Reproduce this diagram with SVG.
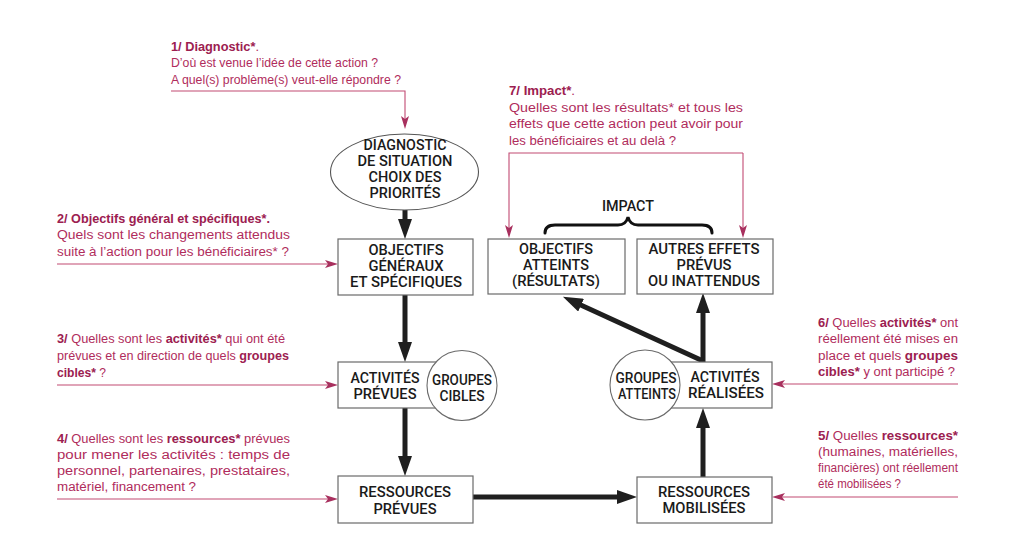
<svg xmlns="http://www.w3.org/2000/svg" width="1024" height="545" viewBox="0 0 1024 545">
<style>
.ann{font-family:"Liberation Sans",Arial,sans-serif;font-size:12px;fill:#b02c5c}
.ann .b{font-weight:bold;fill:#9c2050}
.nd{font-family:Roboto,"Liberation Sans",sans-serif;font-size:15.5px;font-weight:500;fill:#1a1a1a;text-anchor:middle}
.box{fill:#fff;stroke:#6a6a6a;stroke-width:1.2}
.circ{fill:#fff;stroke:#6a6a6a;stroke-width:1.1}
.thick{stroke:#1f1f1f;stroke-width:5;fill:none;marker-end:url(#ah)}
.pink{stroke:#c24a73;stroke-width:1.1;fill:none;marker-end:url(#ap)}
</style>
<defs>
<marker id="ah" viewBox="0 0 20 14" markerWidth="20" markerHeight="14" refX="10" refY="7" orient="auto" markerUnits="userSpaceOnUse">
<path d="M0,0 L20,7 L0,14 z" fill="#1f1f1f"/>
</marker>
<marker id="ap" viewBox="0 0 13 8" markerWidth="13" markerHeight="8" refX="7" refY="4" orient="auto" markerUnits="userSpaceOnUse">
<path d="M0,0 L13,4 L0,8 L3,4 z" fill="#a8305e"/>
</marker>
</defs>

<g id="connectors">
<line class="thick" x1="405" y1="210" x2="405" y2="229"/>
<line class="thick" x1="405" y1="295" x2="405" y2="352"/>
<line class="thick" x1="405" y1="408" x2="405" y2="466"/>
<line class="thick" x1="473" y1="497" x2="627" y2="497"/>
<line class="thick" x1="703" y1="477" x2="703" y2="418"/>
<line class="thick" x1="703" y1="362" x2="703" y2="303"/>
<line class="thick" x1="703" y1="361" x2="572" y2="301"/>
<polyline class="pink" points="171,91 405,91 405,123"/>
<polyline class="pink" points="743,153 509,153 509,232"/>
<polyline class="pink" points="743,153 743,232"/>
<line class="pink" x1="57" y1="264" x2="332" y2="264"/>
<line class="pink" x1="57" y1="385" x2="332" y2="385"/>
<line class="pink" x1="57" y1="499" x2="332" y2="499"/>
<line class="pink" x1="958" y1="384" x2="778" y2="384"/>
<line class="pink" x1="958" y1="497" x2="778" y2="497"/>
<path d="M545,233 Q545,225 555,225 L618,225 Q626,225 628,217 Q630,225 638,225 L702,225 Q712,225 712,233" fill="none" stroke="#111" stroke-width="3" stroke-linecap="round"/>
</g>

<g id="diagnostic">
<ellipse cx="404.5" cy="172" rx="74" ry="38" fill="#fff" stroke="#555" stroke-width="1.1"/>
<text class="nd" x="405" y="150" textLength="83" lengthAdjust="spacingAndGlyphs">DIAGNOSTIC</text>
<text class="nd" x="405" y="166" textLength="95" lengthAdjust="spacingAndGlyphs">DE SITUATION</text>
<text class="nd" x="405" y="182" textLength="73" lengthAdjust="spacingAndGlyphs">CHOIX DES</text>
<text class="nd" x="405" y="198" textLength="71" lengthAdjust="spacingAndGlyphs">PRIORITÉS</text>
</g>

<g id="objectifs">
<rect class="box" x="338" y="239" width="135" height="56"/>
<text class="nd" x="406" y="255" textLength="75" lengthAdjust="spacingAndGlyphs">OBJECTIFS</text>
<text class="nd" x="406" y="271" textLength="75" lengthAdjust="spacingAndGlyphs">GÉNÉRAUX</text>
<text class="nd" x="406" y="287" textLength="112" lengthAdjust="spacingAndGlyphs">ET SPÉCIFIQUES</text>
</g>

<g id="activites-prevues">
<rect class="box" x="338" y="362" width="135" height="46"/>
<text class="nd" x="385" y="383" textLength="69" lengthAdjust="spacingAndGlyphs">ACTIVITÉS</text>
<text class="nd" x="385" y="399" textLength="63" lengthAdjust="spacingAndGlyphs">PRÉVUES</text>
</g>

<g id="groupes-cibles">
<circle class="circ" cx="462" cy="385.5" r="35"/>
<text class="nd" x="462" y="385" textLength="60" lengthAdjust="spacingAndGlyphs">GROUPES</text>
<text class="nd" x="462" y="401" textLength="45" lengthAdjust="spacingAndGlyphs">CIBLES</text>
</g>

<g id="ressources-prevues">
<rect class="box" x="338" y="476" width="135" height="47"/>
<text class="nd" x="405" y="497" textLength="92" lengthAdjust="spacingAndGlyphs">RESSOURCES</text>
<text class="nd" x="405" y="514" textLength="63" lengthAdjust="spacingAndGlyphs">PRÉVUES</text>
</g>

<g id="ressources-mobilisees">
<rect class="box" x="637" y="477" width="135" height="46"/>
<text class="nd" x="704" y="497" textLength="92" lengthAdjust="spacingAndGlyphs">RESSOURCES</text>
<text class="nd" x="704" y="513" textLength="83" lengthAdjust="spacingAndGlyphs">MOBILISÉES</text>
</g>

<g id="activites-realisees">
<rect class="box" x="637" y="362" width="135" height="46"/>
<text class="nd" x="725" y="382" textLength="69" lengthAdjust="spacingAndGlyphs">ACTIVITÉS</text>
<text class="nd" x="726" y="398" textLength="76" lengthAdjust="spacingAndGlyphs">RÉALISÉES</text>
</g>

<g id="groupes-atteints">
<circle class="circ" cx="645" cy="385" r="35"/>
<text class="nd" x="646" y="383" textLength="61" lengthAdjust="spacingAndGlyphs">GROUPES</text>
<text class="nd" x="647" y="399" textLength="58" lengthAdjust="spacingAndGlyphs">ATTEINTS</text>
</g>

<g id="objectifs-atteints">
<rect class="box" x="488" y="239" width="137" height="55"/>
<text class="nd" x="556" y="254" textLength="74" lengthAdjust="spacingAndGlyphs">OBJECTIFS</text>
<text class="nd" x="556" y="270" textLength="66" lengthAdjust="spacingAndGlyphs">ATTEINTS</text>
<text class="nd" x="556" y="286" textLength="88" lengthAdjust="spacingAndGlyphs">(RÉSULTATS)</text>
</g>

<g id="autres-effets">
<rect class="box" x="637" y="239" width="136" height="55"/>
<text class="nd" x="704" y="254" textLength="111" lengthAdjust="spacingAndGlyphs">AUTRES EFFETS</text>
<text class="nd" x="704" y="270" textLength="55" lengthAdjust="spacingAndGlyphs">PRÉVUS</text>
<text class="nd" x="704" y="286" textLength="112" lengthAdjust="spacingAndGlyphs">OU INATTENDUS</text>
</g>

<g id="impact">
<text class="nd" x="628" y="211" textLength="52" lengthAdjust="spacingAndGlyphs">IMPACT</text>
</g>

<g id="note-1" class="ann">
<text x="171" y="51" textLength="88" lengthAdjust="spacingAndGlyphs"><tspan class="b">1/ Diagnostic*</tspan>.</text>
<text x="171" y="67" textLength="207" lengthAdjust="spacingAndGlyphs">D’où est venue l’idée de cette action ?</text>
<text x="171" y="84" textLength="230" lengthAdjust="spacingAndGlyphs">A quel(s) problème(s) veut-elle répondre ?</text>
</g>

<g id="note-7" class="ann">
<text x="509" y="95" textLength="66" lengthAdjust="spacingAndGlyphs"><tspan class="b">7/ Impact*</tspan>.</text>
<text x="509" y="112" textLength="234" lengthAdjust="spacingAndGlyphs">Quelles sont les résultats* et tous les</text>
<text x="509" y="128" textLength="234" lengthAdjust="spacingAndGlyphs">effets que cette action peut avoir pour</text>
<text x="509" y="145" textLength="167" lengthAdjust="spacingAndGlyphs">les bénéficiaires  et au delà ?</text>
</g>

<g id="note-2" class="ann">
<text x="57" y="223" textLength="213" lengthAdjust="spacingAndGlyphs"><tspan class="b">2/ Objectifs général et spécifiques*.</tspan></text>
<text x="57" y="239" textLength="233" lengthAdjust="spacingAndGlyphs">Quels sont les changements attendus</text>
<text x="57" y="256" textLength="232" lengthAdjust="spacingAndGlyphs">suite à l’action pour les  bénéficiaires* ?</text>
</g>

<g id="note-3" class="ann">
<text x="57" y="343" textLength="228" lengthAdjust="spacingAndGlyphs"><tspan class="b">3/</tspan> Quelles sont les <tspan class="b">activités*</tspan> qui ont été</text>
<text x="57" y="360" textLength="232" lengthAdjust="spacingAndGlyphs">prévues et en direction de quels <tspan class="b">groupes</tspan></text>
<text x="57" y="377" textLength="49" lengthAdjust="spacingAndGlyphs"><tspan class="b">cibles*</tspan> ?</text>
</g>

<g id="note-4" class="ann">
<text x="57" y="443" textLength="233" lengthAdjust="spacingAndGlyphs"><tspan class="b">4/</tspan> Quelles sont les <tspan class="b">ressources*</tspan> prévues</text>
<text x="57" y="459" textLength="233" lengthAdjust="spacingAndGlyphs">pour mener les activités : temps de</text>
<text x="57" y="475" textLength="233" lengthAdjust="spacingAndGlyphs">personnel, partenaires, prestataires,</text>
<text x="57" y="491" textLength="139" lengthAdjust="spacingAndGlyphs">matériel, financement ?</text>
</g>

<g id="note-6" class="ann">
<text x="818" y="327" textLength="140" lengthAdjust="spacingAndGlyphs"><tspan class="b">6/</tspan> Quelles <tspan class="b">activités*</tspan> ont</text>
<text x="818" y="343" textLength="140" lengthAdjust="spacingAndGlyphs">réellement été mises en</text>
<text x="818" y="360" textLength="140" lengthAdjust="spacingAndGlyphs">place et quels <tspan class="b">groupes</tspan></text>
<text x="818" y="376" textLength="137" lengthAdjust="spacingAndGlyphs"><tspan class="b">cibles*</tspan> y ont participé ?</text>
</g>

<g id="note-5" class="ann">
<text x="818" y="440" textLength="140" lengthAdjust="spacingAndGlyphs"><tspan class="b">5/</tspan> Quelles <tspan class="b">ressources*</tspan></text>
<text x="818" y="456" textLength="140" lengthAdjust="spacingAndGlyphs">(humaines, matérielles,</text>
<text x="818" y="472" textLength="140" lengthAdjust="spacingAndGlyphs">financières) ont réellement</text>
<text x="818" y="488" textLength="83" lengthAdjust="spacingAndGlyphs">été mobilisées ?</text>
</g>
</svg>
